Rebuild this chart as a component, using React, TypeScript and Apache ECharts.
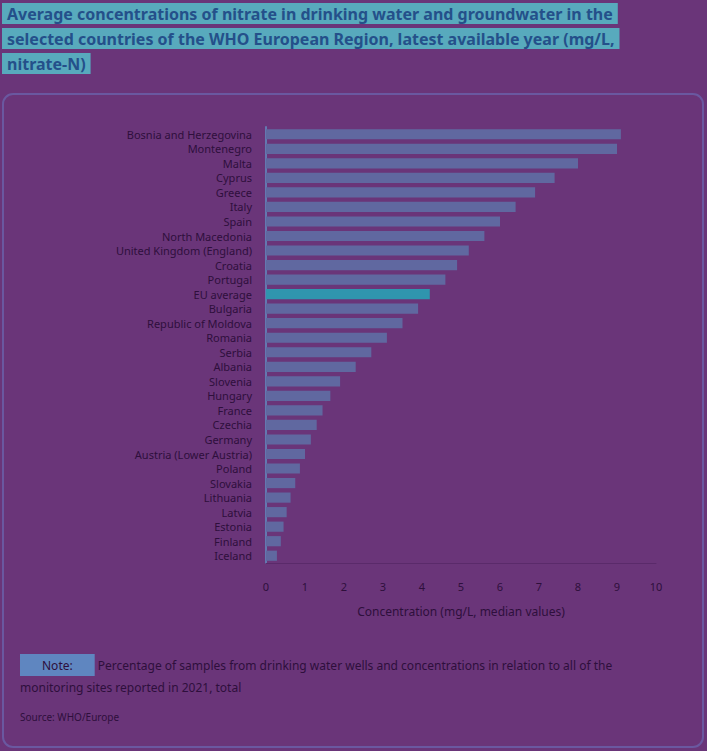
import React, { useEffect, useRef } from "react";
import * as echarts from "echarts";

const categories: string[] = [
  "Bosnia and Herzegovina",
  "Montenegro",
  "Malta",
  "Cyprus",
  "Greece",
  "Italy",
  "Spain",
  "North Macedonia",
  "United Kingdom (England)",
  "Croatia",
  "Portugal",
  "EU average",
  "Bulgaria",
  "Republic of Moldova",
  "Romania",
  "Serbia",
  "Albania",
  "Slovenia",
  "Hungary",
  "France",
  "Czechia",
  "Germany",
  "Austria (Lower Austria)",
  "Poland",
  "Slovakia",
  "Lithuania",
  "Latvia",
  "Estonia",
  "Finland",
  "Iceland",
];

const values: number[] = [
  9.1, 9.0, 8.0, 7.4, 6.9, 6.4, 6.0, 5.6, 5.2, 4.9, 4.6, 4.2, 3.9, 3.5, 3.1,
  2.7, 2.3, 1.9, 1.65, 1.45, 1.3, 1.15, 1.0, 0.87, 0.75, 0.63, 0.53, 0.45,
  0.38, 0.28,
];

const highlightCategory = "EU average";

const titleLines: string[] = [
  "Average concentrations of nitrate in drinking water and groundwater in the",
  "selected countries of the WHO European Region, latest available year (mg/L,",
  "nitrate-N)",
];

const xAxisTitle = "Concentration (mg/L, median values)";
const noteLabel = "Note:";
const noteLine1 = "Percentage of samples from drinking water wells and concentrations in relation to all of the";
const noteLine2 = "monitoring sites reported in 2021, total";
const sourceText = "Source: WHO/Europe";

const BG = "#6a3579";
const BAR = "#6068a0";
const BAR_HL = "#2f95ae";
const TEXT = "#2e0f3c";
const FONT = "'Noto Sans', sans-serif";

export default function App() {
  const ref = useRef<HTMLDivElement>(null);

  useEffect(() => {
    document.body.style.margin = "0";
    document.body.style.background = BG;
    if (!ref.current) return;
    const chart = echarts.init(ref.current, null, { renderer: "svg" });

    const titleGraphics = titleLines.map((t, i) => ({
      type: "text",
      left: 2,
      top: 3 + i * 25,
      style: {
        text: t,
        fill: "#24508a",
        font: `bold 16px ${FONT}`,
        backgroundColor: "#58aabd",
        padding: [3, 5, 2, 5],
      },
    }));

    chart.setOption({
      animation: false,
      backgroundColor: BG,
      textStyle: { fontFamily: FONT },
      grid: { left: 266, right: 51, top: 127, bottom: 188, containLabel: false },
      xAxis: {
        type: "value",
        min: 0,
        max: 10,
        interval: 1,
        name: xAxisTitle,
        nameLocation: "middle",
        nameGap: 42,
        nameTextStyle: { color: TEXT, fontSize: 12, fontFamily: FONT },
        axisLine: { show: true, lineStyle: { color: "#5a2a6a", width: 1 } },
        axisTick: { show: false },
        splitLine: { show: false },
        axisLabel: { color: TEXT, fontSize: 11, margin: 18, fontFamily: FONT },
      },
      yAxis: {
        type: "category",
        data: categories,
        inverse: true,
        axisLine: { show: true, lineStyle: { color: "#6478b0", width: 2 } },
        axisTick: { show: false },
        axisLabel: { color: TEXT, fontSize: 11, margin: 14, fontFamily: FONT },
      },
      series: [
        {
          type: "bar",
          barCategoryGap: "30%",
          data: values.map((v, i) => ({
            value: v,
            itemStyle: {
              color: categories[i] === highlightCategory ? BAR_HL : BAR,
            },
          })),
        },
      ],
      graphic: [
        ...titleGraphics,
        {
          type: "rect",
          shape: { x: 3, y: 94, width: 700, height: 653, r: 10 },
          style: { fill: "none", stroke: "#6a58a0", lineWidth: 2 },
          silent: true,
        },
        {
          type: "text",
          left: 20,
          top: 654,
          style: {
            text: `{hl|${noteLabel}} ${noteLine1}`,
            fill: TEXT,
            font: `12px ${FONT}`,
            rich: {
              hl: {
                backgroundColor: "#5f86c0",
                color: "#2e3f7a",
                padding: [5, 22, 5, 22],
                fontSize: 12,
                fontFamily: FONT,
              },
            },
          },
        },
        {
          type: "text",
          left: 20,
          top: 681,
          style: {
            text: noteLine2,
            fill: TEXT,
            font: `12px ${FONT}`,
          },
        },
        {
          type: "text",
          left: 20,
          top: 712,
          style: {
            text: sourceText,
            fill: TEXT,
            font: `10px ${FONT}`,
          },
        },
      ],
    });

    return () => chart.dispose();
  }, []);

  return <div ref={ref} style={{ width: 707, height: 751 }} />;
}
